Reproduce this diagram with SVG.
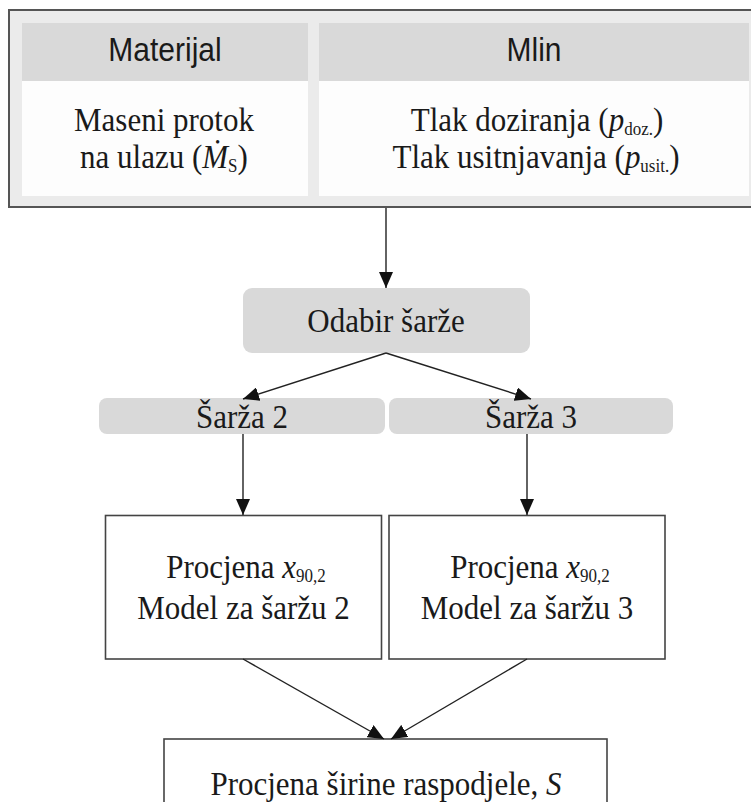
<svg xmlns="http://www.w3.org/2000/svg" width="751" height="802" viewBox="0 0 751 802">
<defs>
<style>
.sans{font-family:"Liberation Sans",Arial,sans-serif;font-size:30px;fill:#1a1a1a}
.serif{font-family:"Liberation Serif","Times New Roman",serif;font-size:31px;fill:#1a1a1a}
.sub{font-size:17px}
.it{font-style:italic}
.hdr{fill:#d9d9d9}
.body{fill:#fdfdfd}
.grey{fill:#d9d9d9}
.box{fill:#ffffff;stroke:#444;stroke-width:1.6}
.conn{stroke:#222;stroke-width:1.4;fill:none;marker-end:url(#ah)}
</style>
<marker id="ah" viewBox="0 0 16 14" refX="16" refY="7" markerWidth="16" markerHeight="14" markerUnits="userSpaceOnUse" orient="auto">
<path d="M0,0 L16,7 L0,14 z" fill="#111"/>
</marker>
</defs>
<rect width="751" height="802" fill="#ffffff"/>

<g id="inputs">
<rect x="9" y="10" width="760" height="197" fill="#ebebeb" stroke="#555" stroke-width="2"/>
<g id="materijal">
<rect class="hdr" x="22" y="23" width="286" height="58"/>
<rect class="body" x="22" y="81" width="286" height="115"/>
<text class="sans" transform="translate(165,61) scale(1,1.12)" text-anchor="middle">Materijal</text>
<text class="serif" transform="translate(164,131) scale(1,1.12)" text-anchor="middle">Maseni protok</text>
<text class="serif" transform="translate(164,168) scale(1,1.12)" text-anchor="middle">na ulazu (<tspan class="it">Ṁ</tspan><tspan class="sub" dy="4">S</tspan><tspan dy="-4">)</tspan></text>
</g>
<g id="mlin">
<rect class="hdr" x="319" y="23" width="430" height="58"/>
<rect class="body" x="319" y="81" width="430" height="115"/>
<text class="sans" transform="translate(534,61) scale(1,1.12)" text-anchor="middle">Mlin</text>
<text class="serif" transform="translate(537,131) scale(1,1.12)" text-anchor="middle">Tlak doziranja (<tspan class="it">p</tspan><tspan class="sub" dy="4">doz.</tspan><tspan dy="-4">)</tspan></text>
<text class="serif" transform="translate(536,168) scale(1,1.12)" text-anchor="middle">Tlak usitnjavanja (<tspan class="it">p</tspan><tspan class="sub" dy="4">usit.</tspan><tspan dy="-4">)</tspan></text>
</g>
</g>

<g id="odabir">
<rect class="grey" x="243" y="288" width="287" height="65" rx="9"/>
<text class="serif" transform="translate(386,332) scale(1,1.12)" text-anchor="middle">Odabir šarže</text>
</g>

<g id="sarza2">
<rect class="grey" x="99" y="398" width="286" height="36" rx="8"/>
<text class="serif" transform="translate(242,428) scale(1,1.12)" text-anchor="middle">Šarža 2</text>
</g>

<g id="sarza3">
<rect class="grey" x="389" y="398" width="284" height="36" rx="8"/>
<text class="serif" transform="translate(531,428) scale(1,1.12)" text-anchor="middle">Šarža 3</text>
</g>

<g id="model2">
<rect class="box" x="105.5" y="515.5" width="276" height="143.5"/>
<text class="serif" transform="translate(246,578) scale(1,1.12)" text-anchor="middle">Procjena <tspan class="it">x</tspan><tspan class="sub" dy="4">90,2</tspan></text>
<text class="serif" transform="translate(243.5,619) scale(1,1.12)" text-anchor="middle">Model za šaržu 2</text>
</g>

<g id="model3">
<rect class="box" x="389" y="515.5" width="276" height="143.5"/>
<text class="serif" transform="translate(530,578) scale(1,1.12)" text-anchor="middle">Procjena <tspan class="it">x</tspan><tspan class="sub" dy="4">90,2</tspan></text>
<text class="serif" transform="translate(527,619) scale(1,1.12)" text-anchor="middle">Model za šaržu 3</text>
</g>

<g id="sirina">
<rect class="box" x="164" y="739" width="443" height="80"/>
<text class="serif" transform="translate(386,795) scale(1,1.12)" text-anchor="middle">Procjena širine raspodjele, <tspan class="it">S</tspan></text>
</g>

<g id="connectors">
<line class="conn" x1="386" y1="208" x2="386" y2="288"/>
<line class="conn" x1="386" y1="353" x2="243" y2="399"/>
<line class="conn" x1="386" y1="353" x2="531" y2="399"/>
<line class="conn" x1="243" y1="434" x2="243" y2="515"/>
<line class="conn" x1="527" y1="434" x2="527" y2="515"/>
<line class="conn" x1="243" y1="659" x2="384" y2="739"/>
<line class="conn" x1="527" y1="659" x2="391" y2="739"/>
</g>
</svg>
